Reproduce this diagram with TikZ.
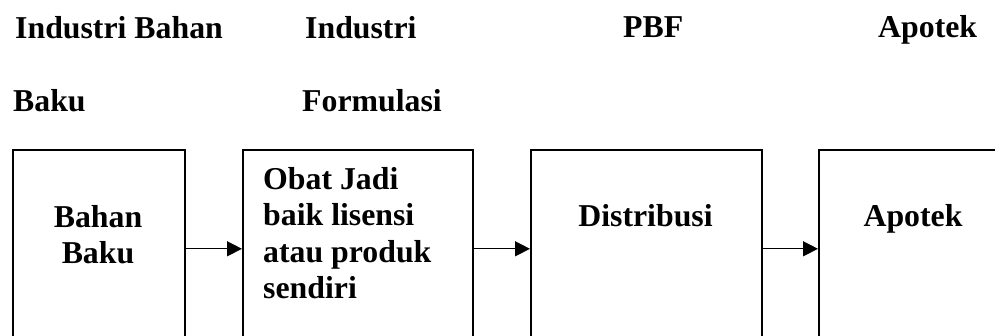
\documentclass[tikz,border=0pt]{standalone}
\usepackage{fontspec}
\setmainfont{Liberation Serif}
\usetikzlibrary{arrows.meta}
\tikzset{
  box/.style={draw, line width=1.6pt, inner sep=0pt, anchor=north west},
  lbl/.style={inner sep=0pt, font=\fontsize{31.8}{36.6}\selectfont\bfseries},
  flow/.style={line width=1.4pt, -{Triangle[length=15pt,width=15pt]}}
}
\begin{document}
\begin{tikzpicture}[x=1pt,y=-1pt]
\useasboundingbox (0,0) rectangle (995,336);
\clip (0,0) rectangle (995,336);
% header labels
\node[lbl, anchor=base west] (h1a) at (15,39) {Industri Bahan};
\node[lbl, anchor=base west] (h1b) at (13,112) {Baku};
\node[lbl, anchor=base west] (h2a) at (305,39) {Industri};
\node[lbl, anchor=base west] (h2b) at (302,112) {Formulasi};
\node[lbl, anchor=base west] (h3) at (623,38) {PBF};
\node[lbl, anchor=base west] (h4) at (878,38) {Apotek};
% boxes
\node[box, minimum width=172pt, minimum height=198pt] (b1) at (12,149) {};
\node[box, minimum width=230pt, minimum height=198pt] (b2) at (242,149) {};
\node[box, minimum width=231pt, minimum height=198pt] (b3) at (530,149) {};
\node[box, minimum width=190pt, minimum height=198pt] (b4) at (818,149) {};
% box texts (base anchor = last line baseline)
\node[lbl, anchor=base, align=center] (t1) at (98,264) {Bahan\\Baku};
\node[lbl, anchor=base west, align=left] (t2) at (263,299) {Obat Jadi\\baik lisensi\\atau produk\\sendiri};
\node[lbl, anchor=base] (t3) at (645.5,227) {Distribusi};
\node[lbl, anchor=base] (t4) at (913,227) {Apotek};
% arrows
\draw[flow] (b1.east) -- (b2.west);
\draw[flow] (b2.east) -- (b3.west);
\draw[flow] (b3.east) -- (b4.west);
\end{tikzpicture}
\end{document}
